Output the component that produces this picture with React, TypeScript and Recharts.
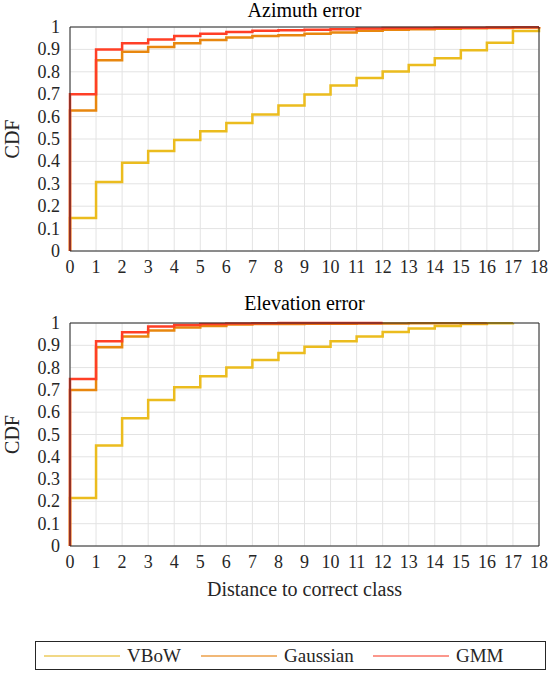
import { CartesianGrid, Line, LineChart, XAxis, YAxis } from "recharts";

const distances = [0, 1, 2, 3, 4, 5, 6, 7, 8, 9, 10, 11, 12, 13, 14, 15, 16, 17, 18];
const cdfTicks = [0, 0.1, 0.2, 0.3, 0.4, 0.5, 0.6, 0.7, 0.8, 0.9, 1];

const azimuthVBoW = [0.147, 0.308, 0.394, 0.446, 0.495, 0.535, 0.571, 0.609, 0.65, 0.699, 0.739, 0.772, 0.801, 0.83, 0.861, 0.896, 0.93, 0.982, 1];
const azimuthGaussian = [0.627, 0.852, 0.89, 0.911, 0.927, 0.942, 0.953, 0.96, 0.963, 0.97, 0.975, 0.983, 0.988, 0.99, 0.992, 0.994, 0.996, 0.998, 1];
const azimuthGMM = [0.7, 0.9, 0.927, 0.944, 0.96, 0.97, 0.978, 0.983, 0.986, 0.988, 0.99, 0.993, 0.995, 0.996, 0.997, 0.997, 0.998, 0.999, 1];

const elevationVBoW = [0.215, 0.451, 0.573, 0.655, 0.712, 0.761, 0.8, 0.834, 0.866, 0.894, 0.918, 0.94, 0.96, 0.975, 0.987, 0.996, 0.999, 1, null];
const elevationGaussian = [0.7, 0.891, 0.94, 0.966, 0.98, 0.987, 0.993, 0.995, 0.996, 0.997, 0.997, 0.998, 0.998, 0.999, 0.999, 0.999, 1, null, null];
const elevationGMM = [0.749, 0.918, 0.958, 0.984, 0.991, 0.996, 0.998, 0.999, 1, 1, 1, 1, 1, null, null, null, null, null, null];

const COLORS = { vbow: "#EBBC1E", gaussian: "#E8870F", gmm: "#FF3F26" };
const FONT = "'Liberation Serif', 'Times New Roman', serif";
const INK = "#262626";

type Row = { x: number; vbow: number | null; gaussian: number | null; gmm: number | null };

function buildRows(v: (number | null)[], g: (number | null)[], m: (number | null)[]): Row[] {
  // CDF starts from 0 at distance 0 (the vertical rise on the left axis)
  const rows: Row[] = [{ x: 0, vbow: 0, gaussian: 0, gmm: 0 }];
  distances.forEach((d, i) => rows.push({ x: d, vbow: v[i], gaussian: g[i], gmm: m[i] }));
  return rows;
}

const azimuthRows = buildRows(azimuthVBoW, azimuthGaussian, azimuthGMM);
const elevationRows = buildRows(elevationVBoW, elevationGaussian, elevationGMM);

function XTick(props: any) {
  const { x, y, payload } = props;
  return (
    <text x={x} y={y + 12} textAnchor="middle" fill={INK} fontSize={18} fontFamily={FONT}>
      {payload.value}
    </text>
  );
}

function YTick(props: any) {
  const { x, y, payload } = props;
  return (
    <text x={x + 1} y={y + 6} textAnchor="end" fill={INK} fontSize={18} fontFamily={FONT}>
      {String(Math.round(payload.value * 10) / 10)}
    </text>
  );
}

function CdfPanel({
  data,
  height,
  top,
  xLabel
}: {
  data: Row[];
  height: number;
  top: number;
  xLabel?: string;
}) {
  return (
    <LineChart width={550} height={height} data={data} margin={{ top, right: 10, left: 0, bottom: 0 }}>
      <CartesianGrid stroke="#e3e3e3" strokeWidth={1} />
      <XAxis
        dataKey="x"
        type="number"
        domain={[0, 18]}
        ticks={distances}
        interval={0}
        tick={<XTick />}
        tickLine={false}
        tickMargin={4}
        axisLine={{ stroke: INK }}
        height={xLabel ? 64 : 29}
        label={
          xLabel
            ? { value: xLabel, position: "insideBottom", offset: 14, fill: INK, fontSize: 20, fontFamily: FONT }
            : undefined
        }
      />
      <XAxis xAxisId="top" orientation="top" type="number" domain={[0, 18]} tick={false} tickLine={false} height={1} axisLine={{ stroke: INK }} />
      <YAxis
        type="number"
        domain={[0, 1]}
        ticks={cdfTicks}
        interval={0}
        tick={<YTick />}
        tickLine={false}
        tickMargin={5}
        axisLine={{ stroke: INK }}
        width={70}
        label={{ value: "CDF", angle: -90, position: "insideLeft", offset: 12, fill: INK, fontSize: 20, fontFamily: FONT, style: { textAnchor: "middle" } }}
      />
      <YAxis yAxisId="right" orientation="right" type="number" domain={[0, 1]} tick={false} tickLine={false} width={1} axisLine={{ stroke: INK }} />
      <Line type="stepAfter" dataKey="vbow" stroke={COLORS.vbow} strokeWidth={2.5} dot={false} isAnimationActive={false} />
      <Line type="stepAfter" dataKey="gaussian" stroke={COLORS.gaussian} strokeWidth={2.5} dot={false} isAnimationActive={false} />
      <Line type="stepAfter" dataKey="gmm" stroke={COLORS.gmm} strokeWidth={2.5} dot={false} isAnimationActive={false} />
    </LineChart>
  );
}

function LegendItem({ color, label, width }: { color: string; label: string; width: number }) {
  return (
    <div style={{ display: "flex", alignItems: "center", width }}>
      <svg width={76} height={4} style={{ marginRight: 7 }}>
        <line x1={0} y1={2} x2={76} y2={2} stroke={color} strokeWidth={1.6} />
      </svg>
      <span>{label}</span>
    </div>
  );
}

export default function App() {
  const title = {
    position: "absolute" as const,
    left: 70,
    width: 469,
    textAlign: "center" as const,
    fontSize: 20,
    lineHeight: "20px",
    color: "#000"
  };
  return (
    <div style={{ position: "absolute", left: 0, top: 0, width: 550, height: 674, background: "#fff", fontFamily: FONT }}>
      <div style={{ ...title, top: 0 }}>Azimuth error</div>
      <div style={{ position: "absolute", left: 0, top: 0 }}>
        <CdfPanel data={azimuthRows} height={280} top={26} />
      </div>
      <div style={{ ...title, top: 293 }}>Elevation error</div>
      <div style={{ position: "absolute", left: 0, top: 280 }}>
        <CdfPanel data={elevationRows} height={330} top={42} xLabel="Distance to correct class" />
      </div>
      <div
        style={{
          position: "absolute",
          left: 35,
          top: 641,
          width: 501,
          height: 27,
          border: `1px solid ${INK}`,
          display: "flex",
          alignItems: "center",
          paddingLeft: 8,
          boxSizing: "content-box",
          fontSize: 19,
          color: INK
        }}
      >
        <LegendItem color="#ECCB5E" label="VBoW" width={157} />
        <LegendItem color="#EDA04A" label="Gaussian" width={172} />
        <LegendItem color="#FA7466" label="GMM" width={160} />
      </div>
    </div>
  );
}
